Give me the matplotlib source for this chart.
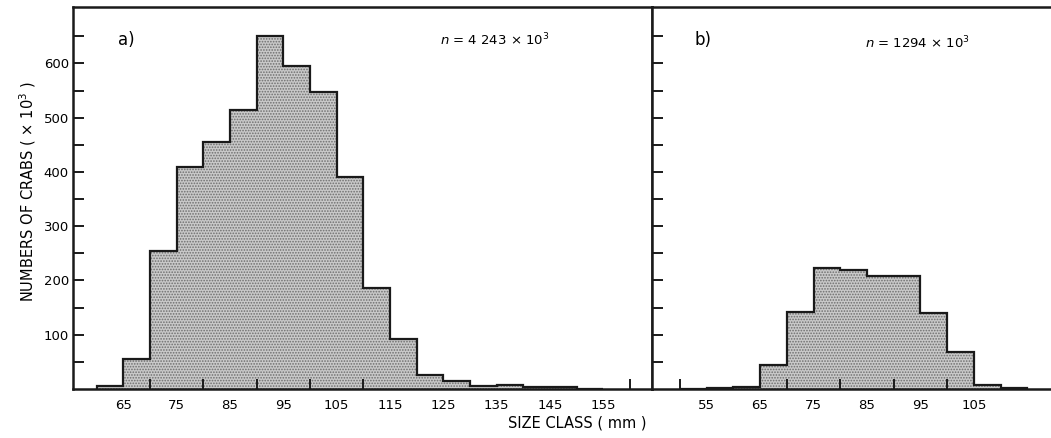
import numpy as np
import matplotlib
matplotlib.use('Agg')
import matplotlib.pyplot as plt

# ── Data ──────────────────────────────────────────────────────────────────────
edges_a = np.arange(60, 160, 5)          # 60 .. 155
counts_a = [5, 55, 255, 410, 455, 515, 650, 596, 548, 391, 187, 92,
            25, 14, 6, 7, 3, 4, 0]
edges_b = np.arange(50, 120, 5)          # 50 .. 115
counts_b = [0, 1, 3, 44, 142, 223, 219, 209, 209, 140, 69, 8, 1]

xlabels_a = [65, 75, 85, 95, 105, 115, 125, 135, 145, 155]
xlabels_b = [55, 65, 75, 85, 95, 105]
xticks_a = [70, 75, 80, 85, 90, 95, 100, 105, 110, 115, 155, 160]
xticks_b = [50, 70, 75, 80, 85, 90, 95, 100]
yticks = np.arange(50, 700, 50)
ylabels = [str(v) if v % 100 == 0 else '' for v in yticks]

n_a = r'$n$ = 4 243 × 10$^3$'
n_b = r'$n$ = 1294 × 10$^3$'

plt.rcParams['font.family'] = ['DejaVu Sans']
plt.rcParams['hatch.linewidth'] = 0.8

fig = plt.figure(figsize=(10.51, 4.38), dpi=100)
W, H = 1051, 438
y0, y1 = 389, 7
ax_a = fig.add_axes([73 / W, (H - y0) / H, 579 / W, (y0 - y1) / H])
ax_b = fig.add_axes([652 / W, (H - y0) / H, 399 / W, (y0 - y1) / H])

FILL = '#c9c9c9'
DOTS = '#6e6e6e'


def draw_hist(ax, counts, edges):
    ax.stairs(counts, edges, fill=True, facecolor=FILL, edgecolor=DOTS,
              hatch='......', linewidth=0, baseline=0)
    ax.stairs(counts, edges, color='#1a1a1a', linewidth=1.6, baseline=0)


def style_axis(ax, xticks, xlabels):
    ax.set_ylim(0, 704)
    ax.set_yticks(yticks)
    ax.tick_params(axis='y', direction='in', length=8, width=1.4,
                   labelsize=9.5, pad=3, color='#1a1a1a')
    ax.set_xticks(xlabels)
    ax.set_xticklabels([str(v) for v in xlabels])
    ax.set_xticks(xticks, minor=True)
    ax.tick_params(axis='x', which='major', length=0, pad=7, labelsize=9.5)
    ax.tick_params(axis='x', which='minor', direction='in', length=7,
                   width=1.4, color='#1a1a1a')
    for s in ax.spines.values():
        s.set_linewidth(1.8)
        s.set_color('#1a1a1a')


# ── Panel a ───────────────────────────────────────────────────────────────────
draw_hist(ax_a, counts_a, edges_a)
ax_a.set_xlim(55.57, 164.1)
style_axis(ax_a, xticks_a, xlabels_a)
ax_a.set_yticklabels(ylabels)
ax_a.text(64, 643, 'a)', fontsize=12, va='center', ha='left')
ax_a.text(124.4, 643, n_a, fontsize=9.5, va='center', ha='left')

# ── Panel b ───────────────────────────────────────────────────────────────────
draw_hist(ax_b, counts_b, edges_b)
ax_b.set_xlim(44.8, 119.4)
style_axis(ax_b, xticks_b, xlabels_b)
ax_b.set_yticklabels(['' for _ in yticks])
ax_b.spines['right'].set_visible(False)
ax_b.text(52.8, 643, 'b)', fontsize=12, va='center', ha='left')
ax_b.text(84.6, 637, n_b, fontsize=9.5, va='center', ha='left')

fig.text(28 / W, (H - 192) / H, r'NUMBERS OF CRABS ( × 10$^3$ )', rotation=90,
         fontsize=10.5, ha='center', va='center')
fig.text(577 / W, (H - 423) / H, 'SIZE CLASS ( mm )', fontsize=10.5,
         ha='center', va='center')

fig.savefig('out.png', dpi=100)
